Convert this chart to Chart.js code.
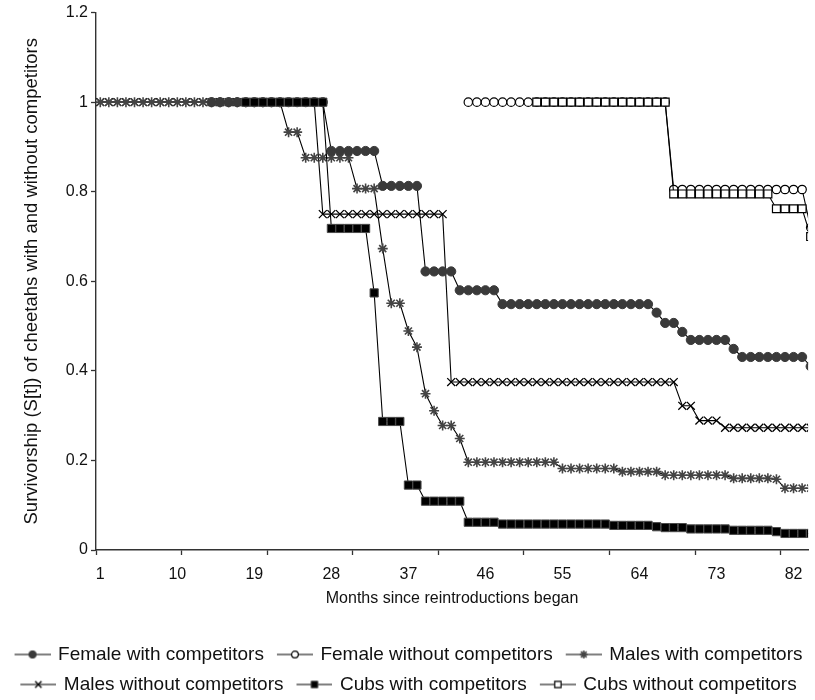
<!DOCTYPE html>
<html>
<head>
<meta charset="utf-8">
<title>Survivorship of reintroduced cheetahs</title>
<script src="https://cdn.jsdelivr.net/npm/chart.js@4.4.1/dist/chart.umd.min.js"></script>
<style>
  html, body { margin: 0; padding: 0; background: #fff; overflow: hidden; }
  #wrap { width: 815px; height: 700px; }
</style>
</head>
<body>
<div id="wrap"><canvas id="survie"></canvas></div>
<script>
// Courbes de survie S[t] des guépards, avec et sans compétiteurs, mois par mois.

const months = Array.from({ length: 84 }, (_, i) => i + 1);
const monthLabels = [1, 10, 19, 28, 37, 46, 55, 64, 73, 82]; // libellés de l'axe X
const monthMarks = [0.5, 10.5, 20.5, 30.5, 40.5, 50.5, 60.5, 70.5, 80.5]; // traits de graduation

const femaleWith = [
  null, null, null, null, null, null, null, null, null, null, null, null, null, // 1-13
  1, 1, 1, 1, 1, 1, 1, 1, 1, 1, 1, 1, 1, 1, // 14-27
  0.891, 0.891, 0.891, 0.891, 0.891, 0.891, // 28-33
  0.813, 0.813, 0.813, 0.813, 0.813, // 34-38
  0.622, 0.622, 0.622, 0.622, // 39-42
  0.58, 0.58, 0.58, 0.58, 0.58, // 43-47
  0.549, 0.549, 0.549, 0.549, 0.549, 0.549, 0.549, 0.549, 0.549,
  0.549, 0.549, 0.549, 0.549, 0.549, 0.549, 0.549, 0.549, 0.549, // 48-65
  0.53, 0.507, 0.507, 0.487, // 66-69
  0.469, 0.469, 0.469, 0.469, 0.469, 0.449, // 70-75
  0.431, 0.431, 0.431, 0.431, 0.431, 0.431, 0.431, 0.431, 0.41 // 76-84
];

const femaleWithout = [
  null, null, null, null, null, null, null, null, null, null,
  null, null, null, null, null, null, null, null, null, null,
  null, null, null, null, null, null, null, null, null, null,
  null, null, null, null, null, null, null, null, null, null,
  null, null, null, // 1-43
  1, 1, 1, 1, 1, 1, 1, 1, 1, 1, 1, 1, 1, 1, 1, 1, 1, 1, 1, 1, 1, 1, 1, 1, // 44-67
  0.805, 0.805, 0.805, 0.805, 0.805, 0.805, 0.805, 0.805,
  0.805, 0.805, 0.805, 0.805, 0.805, 0.805, 0.805, 0.805, // 68-83
  0.72 // 84
];

const malesWith = [
  1, 1, 1, 1, 1, 1, 1, 1, 1, 1, 1, 1, 1, 1, 1, 1, 1, 1, 1, 1, 1, 1, // 1-22
  0.933, 0.933, // 23-24
  0.876, 0.876, 0.876, 0.876, 0.876, 0.876, // 25-30
  0.807, 0.807, 0.807, 0.673, 0.551, 0.551, // 31-36
  0.489, 0.453, 0.349, 0.311, 0.278, 0.278, 0.249, // 37-43
  0.196, 0.196, 0.196, 0.196, 0.196, 0.196, 0.196, 0.196, 0.196, 0.196, 0.196, // 44-54
  0.182, 0.182, 0.182, 0.182, 0.182, 0.182, 0.182, // 55-61
  0.175, 0.175, 0.175, 0.175, 0.175, // 62-66
  0.167, 0.167, 0.167, 0.167, 0.167, 0.167, 0.167, 0.167, // 67-74
  0.16, 0.16, 0.16, 0.16, 0.16, 0.158, // 75-80
  0.138, 0.138, 0.138, 0.138 // 81-84
];

const malesWithout = [
  1, 1, 1, 1, 1, 1, 1, 1, 1, 1, 1, 1, 1,
  1, 1, 1, 1, 1, 1, 1, 1, 1, 1, 1, 1, 1, // 1-26
  0.75, 0.75, 0.75, 0.75, 0.75, 0.75, 0.75, 0.75,
  0.75, 0.75, 0.75, 0.75, 0.75, 0.75, 0.75, // 27-41
  0.375, 0.375, 0.375, 0.375, 0.375, 0.375, 0.375, 0.375, 0.375,
  0.375, 0.375, 0.375, 0.375, 0.375, 0.375, 0.375, 0.375, 0.375,
  0.375, 0.375, 0.375, 0.375, 0.375, 0.375, 0.375, 0.375, 0.375, // 42-68
  0.322, 0.322, 0.289, 0.289, 0.289, // 69-73
  0.273, 0.273, 0.273, 0.273, 0.273, 0.273, 0.273, 0.273, 0.273, 0.273, 0.273 // 74-84
];

const cubsWith = [
  null, null, null, null, null, null, null, null, null,
  null, null, null, null, null, null, null, null, // 1-17
  1, 1, 1, 1, 1, 1, 1, 1, 1, 1, // 18-27
  0.718, 0.718, 0.718, 0.718, 0.718, 0.574, // 28-33
  0.287, 0.287, 0.287, 0.145, 0.145, // 34-38
  0.109, 0.109, 0.109, 0.109, 0.109, // 39-43
  0.062, 0.062, 0.062, 0.062, // 44-47
  0.058, 0.058, 0.058, 0.058, 0.058, 0.058, 0.058,
  0.058, 0.058, 0.058, 0.058, 0.058, 0.058, // 48-60
  0.055, 0.055, 0.055, 0.055, 0.055, 0.052, // 61-66
  0.05, 0.05, 0.05, 0.047, 0.047, 0.047, 0.047, 0.047, // 67-74
  0.044, 0.044, 0.044, 0.044, 0.044, 0.041, // 75-80
  0.037, 0.037, 0.037, 0.037 // 81-84
];

const cubsWithout = [
  null, null, null, null, null, null, null, null, null, null,
  null, null, null, null, null, null, null, null, null, null,
  null, null, null, null, null, null, null, null, null, null,
  null, null, null, null, null, null, null, null, null, null,
  null, null, null, null, null, null, null, null, null, null,
  null, // 1-51
  1, 1, 1, 1, 1, 1, 1, 1, 1, 1, 1, 1, 1, 1, 1, 1, // 52-67
  0.795, 0.795, 0.795, 0.795, 0.795, 0.795,
  0.795, 0.795, 0.795, 0.795, 0.795, 0.795, // 68-79
  0.762, 0.762, 0.762, 0.762, // 80-83
  0.7 // 84
];

const seriesLabels = [
  "Female with competitors",
  "Female without competitors",
  "Males with competitors",
  "Males without competitors",
  "Cubs with competitors",
  "Cubs without competitors",
];
const seriesValues = [femaleWith, femaleWithout, malesWith, malesWithout, cubsWith, cubsWithout];

// Style des marqueurs pour chaque série (order = ordre de superposition, 1 au-dessus)
const markers = [
  { pointStyle: "circle", radius: 4.6, fill: "#3a3a3a", stroke: "#3a3a3a", width: 1, order: 4 },
  { pointStyle: "circle", radius: 4.2, fill: "#ffffff", stroke: "#000000", width: 1.2, order: 3 },
  { pointStyle: "star", radius: 5, fill: "#444444", stroke: "#444444", width: 1.6, order: 5 },
  { pointStyle: "crossRot", radius: 5.6, fill: "#000000", stroke: "#000000", width: 1.3, order: 6 },
  { pointStyle: "rect", radius: 5.8, fill: "#000000", stroke: "#4a4a4a", width: 1, order: 1 },
  { pointStyle: "rect", radius: 5.6, fill: "#ffffff", stroke: "#000000", width: 1.2, order: 2 },
];

const fontFamily = "'Liberation Sans', Arial, sans-serif";

// Petite image "ligne + marqueur" pour la légende (un peu plus large que la case)
function legendIcon(m) {
  const c = document.createElement("canvas");
  c.width = 40;
  c.height = 14;
  const g = c.getContext("2d");
  g.strokeStyle = "#000";
  g.lineWidth = 1.2;
  g.beginPath();
  g.moveTo(4, 7);
  g.lineTo(40, 7);
  g.stroke();
  g.fillStyle = m.fill;
  g.strokeStyle = m.stroke;
  g.lineWidth = m.width;
  Chart.helpers.drawPoint(g, { pointStyle: m.pointStyle, radius: m.radius * 0.8, borderWidth: m.width, rotation: 0 }, 22, 7);
  return c;
}

const datasets = seriesLabels.map((label, i) => ({
  label: label,
  data: months.map((m, k) => ({ x: m, y: seriesValues[i][k] })),
  order: markers[i].order,
  borderColor: "#000",
  borderWidth: 1.1,
  tension: 0,
  pointStyle: markers[i].pointStyle,
  pointRadius: markers[i].radius,
  pointBackgroundColor: markers[i].fill,
  pointBorderColor: markers[i].stroke,
  pointBorderWidth: markers[i].width,
}));

const ctx = document.getElementById("survie");

new Chart(ctx, {
  type: "line",
  data: { datasets: datasets },
  options: {
    responsive: true,
    maintainAspectRatio: false,
    animation: false,
    events: [],
    layout: { padding: { top: 12, right: 0, bottom: -4, left: 0 } },
    scales: {
      x: {
        type: "linear",
        min: 0.5,
        max: 83.7,
        afterFit: (scale) => { scale.height = 84; },
        afterBuildTicks: (scale) => {
          scale.ticks = monthMarks.concat(monthLabels)
            .sort((a, b) => a - b)
            .map((v) => ({ value: v }));
        },
        grid: {
          drawOnChartArea: false,
          drawTicks: true,
          tickLength: 5,
          tickWidth: 1.3,
          tickColor: (c) => (c.tick && monthLabels.includes(c.tick.value) ? "rgba(0,0,0,0)" : "#333"),
        },
        border: { display: true, color: "#333", width: 1.4 },
        ticks: {
          autoSkip: false,
          maxRotation: 0,
          minRotation: 0,
          padding: 10,
          color: "#111",
          font: { family: fontFamily, size: 16 },
          callback: (v) => (monthLabels.includes(v) ? String(v) : ""),
        },
        title: {
          display: true,
          text: "Months since reintroductions began",
          color: "#111",
          font: { family: fontFamily, size: 16 },
          padding: { top: 0, bottom: 26 },
        },
      },
      y: {
        min: 0,
        max: 1.2,
        afterFit: (scale) => { scale.width = 96; },
        grid: {
          drawOnChartArea: false,
          drawTicks: true,
          tickLength: 5,
          tickWidth: 1.3,
          tickColor: "#333",
        },
        border: { display: true, color: "#333", width: 1.4 },
        ticks: {
          stepSize: 0.2,
          padding: 3,
          color: "#111",
          font: { family: fontFamily, size: 16 },
          callback: (v) => String(Number(v.toFixed(1))),
        },
        title: {
          display: true,
          text: "Survivorship (S[t]) of cheetahs with and without competitors",
          color: "#111",
          font: { family: fontFamily, size: 18.5 },
          padding: { top: 21, bottom: 0 },
        },
      },
    },
    plugins: {
      tooltip: { enabled: false },
      legend: {
        position: "bottom",
        labels: {
          usePointStyle: true,
          pointStyleWidth: 36,
          padding: 11,
          color: "#111",
          font: { family: fontFamily, size: 19 },
          generateLabels: (chart) => chart.data.datasets.map((ds, i) => ({
            text: ds.label,
            datasetIndex: i,
            pointStyle: legendIcon(markers[i]),
            fillStyle: "rgba(0,0,0,0)",
            strokeStyle: "rgba(0,0,0,0)",
            lineWidth: 0,
            hidden: false,
            fontColor: "#111",
          })),
        },
      },
    },
  },
});
</script>
</body>
</html>
